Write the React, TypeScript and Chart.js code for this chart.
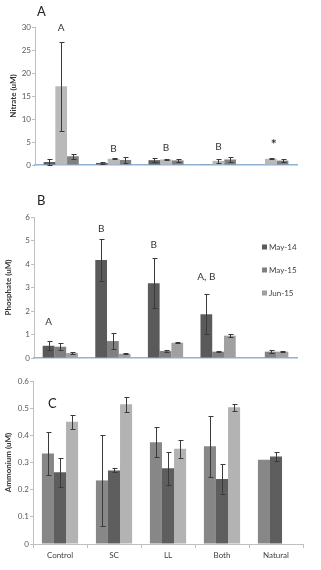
import React, { useEffect, useRef } from "react";
import { Chart, registerables } from "chart.js";
Chart.register(...registerables);

const categories = ["Control", "SC", "LL", "Both", "Natural"];
const seriesNames = ["May-14", "May-15", "Jun-15"];

// Panel A – Nitrate
const nitrateS1 = [0.65, 0.45, 1.05, 0.08, null];
const nitrateS2 = [17.1, 1.35, 1.2, 0.9, 1.35];
const nitrateS3 = [1.9, 1.1, 1.0, 1.2, 0.95];
const nitrateE1 = [0.55, 0.3, 0.45, null, null];
const nitrateE2 = [9.7, 0.1, 0.15, 0.4, 0.1];
const nitrateE3 = [0.5, 0.7, 0.3, 0.5, 0.3];
const nitrateLetters = ["A", "B", "B", "B", "*"];
const nitrateLetterLevels = [29.8, 3.5, 3.7, 3.9, 4.4];
const nitrateMax = 30;
const nitrateStep = 5;

// Panel B – Phosphate
const phosS1 = [0.52, 4.17, 3.18, 1.86, null];
const phosS2 = [0.48, 0.72, 0.3, 0.27, 0.27];
const phosS3 = [0.21, 0.18, 0.65, 0.95, 0.27];
const phosE1 = [0.2, 0.9, 1.07, 0.85, null];
const phosE2 = [0.16, 0.35, 0.04, 0.03, 0.05];
const phosE3 = [0.04, 0.02, 0.02, 0.07, 0.03];
const phosLetters = ["A", "B", "B", "A, B", ""];
const phosLetterLevels = [1.53, 5.49, 4.8, 3.45, 0];
const phosMax = 6;
const phosStep = 1;

// Panel C – Ammonium
const ammS1 = [0.333, 0.234, 0.375, 0.36, 0.31];
const ammS2 = [0.264, 0.271, 0.279, 0.239, 0.322];
const ammS3 = [0.45, 0.514, 0.351, 0.503, null];
const ammE1 = [0.08, 0.168, 0.055, 0.112, null];
const ammE2 = [0.054, 0.007, 0.061, 0.056, 0.018];
const ammE3 = [0.026, 0.028, 0.033, 0.013, null];
const ammMax = 0.6;
const ammStep = 0.1;

const FONT = "Lato, 'Liberation Sans', Arial, sans-serif";
Chart.defaults.font.family = FONT;

const errorBarPlugin = {
  id: "errorBars",
  afterDatasetsDraw(chart: any, _a: any, opts: any) {
    const errs = opts.errors;
    if (!errs) return;
    const ctx = chart.ctx;
    const ys = chart.scales.y;
    ctx.save();
    ctx.strokeStyle = "#3a3a3a";
    ctx.lineWidth = 1;
    chart.data.datasets.forEach((ds: any, i: number) => {
      const meta = chart.getDatasetMeta(i);
      ds.data.forEach((v: any, j: number) => {
        const e = errs[i] && errs[i][j];
        if (v == null || e == null) return;
        const el = meta.data[j];
        const x = Math.round(el.x) + 0.5;
        const t = Math.round(ys.getPixelForValue(v + e)) + 0.5;
        const b = Math.round(ys.getPixelForValue(v - e)) + 0.5;
        ctx.beginPath();
        ctx.moveTo(x, t);
        ctx.lineTo(x, b);
        ctx.moveTo(x - 2, t);
        ctx.lineTo(x + 3, t);
        ctx.moveTo(x - 2, b);
        ctx.lineTo(x + 3, b);
        ctx.stroke();
      });
    });
    ctx.restore();
  },
};

const letterPlugin = {
  id: "letters",
  afterDatasetsDraw(chart: any, _a: any, opts: any) {
    if (!opts.letters) return;
    const ctx = chart.ctx;
    const ys = chart.scales.y;
    const meta = chart.getDatasetMeta(opts.dataset);
    ctx.save();
    ctx.fillStyle = "#333333";
    ctx.textAlign = "center";
    ctx.textBaseline = "middle";
    opts.letters.forEach((s: string, j: number) => {
      if (!s) return;
      const el = meta.data[j];
      ctx.font = s === "*" ? `bold 14px ${FONT}` : `10px ${FONT}`;
      ctx.fillText(s, el.x + (s === "*" ? 3 : 0), ys.getPixelForValue(opts.levels[j]));
    });
    ctx.restore();
  },
};

const legendPlugin = {
  id: "sideLegend",
  afterDraw(chart: any, _a: any, opts: any) {
    if (!opts.show) return;
    const ctx = chart.ctx;
    const area = chart.chartArea;
    ctx.save();
    ctx.font = `8px ${FONT}`;
    ctx.textBaseline = "middle";
    ctx.textAlign = "left";
    chart.data.datasets.forEach((ds: any, i: number) => {
      const y = area.top + 30 + i * 23;
      const x = area.right - 35;
      ctx.fillStyle = ds.backgroundColor;
      ctx.fillRect(x, y - 2.5, 5, 5);
      ctx.fillStyle = "#404040";
      ctx.fillText(ds.label, x + 7, y);
    });
    ctx.restore();
  },
};

function makeConfig(p: any) {
  return {
    type: "bar",
    data: {
      labels: categories,
      datasets: p.series.map((d: any, i: number) => ({
        label: seriesNames[i],
        data: d,
        backgroundColor: p.colors[i],
        borderWidth: 0,
        categoryPercentage: 0.67,
        barPercentage: 1.0,
      })),
    },
    plugins: [errorBarPlugin, letterPlugin, legendPlugin],
    options: {
      responsive: false,
      animation: false,
      events: [],
      layout: { padding: p.padding },
      plugins: {
        legend: { display: false },
        tooltip: { enabled: false },
        errorBars: { errors: p.errors },
        letters: p.letters ? { letters: p.letters, levels: p.levels, dataset: p.letterDs } : {},
        sideLegend: { show: !!p.legend },
      },
      scales: {
        x: {
          display: true,
          afterFit: (s: any) => {
            s.height = p.xHeight;
          },
          grid: p.xLabels
            ? { display: true, drawOnChartArea: false, offset: true, tickLength: 4, color: "#bfbfbf" }
            : { display: false },
          border: { display: true, color: p.xLabels ? "#bfbfbf" : "#8fb2d6", width: p.xLabels ? 1 : 1.5 },
          ticks: p.xLabels
            ? { display: true, font: { size: 8, family: FONT }, color: "#404040", padding: 3, maxRotation: 0 }
            : { display: false },
        },
        y: {
          min: 0,
          max: p.max,
          afterFit: (s: any) => {
            s.width = p.yWidth;
          },
          ticks: {
            stepSize: p.step,
            font: { size: 8, family: FONT },
            color: "#595959",
            padding: 1,
            callback: (v: number) => (v === 0 ? "0" : p.decimals ? v.toFixed(p.decimals) : String(v)),
          },
          grid: { display: true, drawOnChartArea: false, drawTicks: true, tickLength: 3, color: "#bfbfbf" },
          border: { display: true, color: "#bfbfbf" },
          title: {
            display: true,
            text: p.title,
            font: { size: 8, weight: "bold", family: FONT },
            color: "#333333",
            padding: { top: p.titlePad, bottom: 0 },
          },
        },
      },
    },
  };
}

function Panel({ top, height, cfg }: any) {
  const ref = useRef<HTMLCanvasElement>(null);
  useEffect(() => {
    const c = new Chart(ref.current as any, makeConfig(cfg) as any);
    return () => c.destroy();
  }, []);
  return (
    <canvas
      ref={ref}
      width={321}
      height={height}
      style={{ position: "absolute", left: 0, top, width: 321, height }}
    />
  );
}

const letterStyle: any = {
  position: "absolute",
  fontFamily: FONT,
  fontSize: 13,
  color: "#222",
  lineHeight: "13px",
};

export default function App() {
  return (
    <div style={{ position: "absolute", left: 0, top: 0, width: 321, height: 570, background: "#fff", overflow: "hidden" }}>
      <Panel
        top={0}
        height={185}
        cfg={{
          series: [nitrateS1, nitrateS2, nitrateS3],
          errors: [nitrateE1, nitrateE2, nitrateE3],
          colors: ["#5e5e5e", "#b9b9b9", "#808080"],
          max: nitrateMax,
          step: nitrateStep,
          title: "Nitrate (uM)",
          titlePad: 9,
          yWidth: 35,
          xHeight: 0,
          padding: { left: 0, right: 24, top: 27, bottom: 20 },
          letters: nitrateLetters,
          levels: nitrateLetterLevels,
          letterDs: 1,
        }}
      />
      <Panel
        top={185}
        height={180}
        cfg={{
          series: [phosS1, phosS2, phosS3],
          errors: [phosE1, phosE2, phosE3],
          colors: ["#5a5a5a", "#808080", "#a0a0a0"],
          max: phosMax,
          step: phosStep,
          title: "Phosphate (uM)",
          titlePad: 4,
          yWidth: 34,
          xHeight: 0,
          padding: { left: 0, right: 24, top: 32, bottom: 7 },
          letters: phosLetters,
          levels: phosLetterLevels,
          letterDs: 0,
          legend: true,
        }}
      />
      <Panel
        top={365}
        height={205}
        cfg={{
          series: [ammS1, ammS2, ammS3],
          errors: [ammE1, ammE2, ammE3],
          colors: ["#878787", "#5e5e5e", "#b3b3b3"],
          max: ammMax,
          step: ammStep,
          decimals: 1,
          title: "Ammonium (uM)",
          titlePad: 4,
          yWidth: 33,
          xHeight: 26,
          padding: { left: 0, right: 18, top: 16, bottom: 0 },
          xLabels: true,
        }}
      />
      <div style={{ ...letterStyle, left: 37, top: 5 }}>A</div>
      <div style={{ ...letterStyle, left: 37, top: 194 }}>B</div>
      <div style={{ ...letterStyle, left: 48, top: 397 }}>C</div>
    </div>
  );
}
